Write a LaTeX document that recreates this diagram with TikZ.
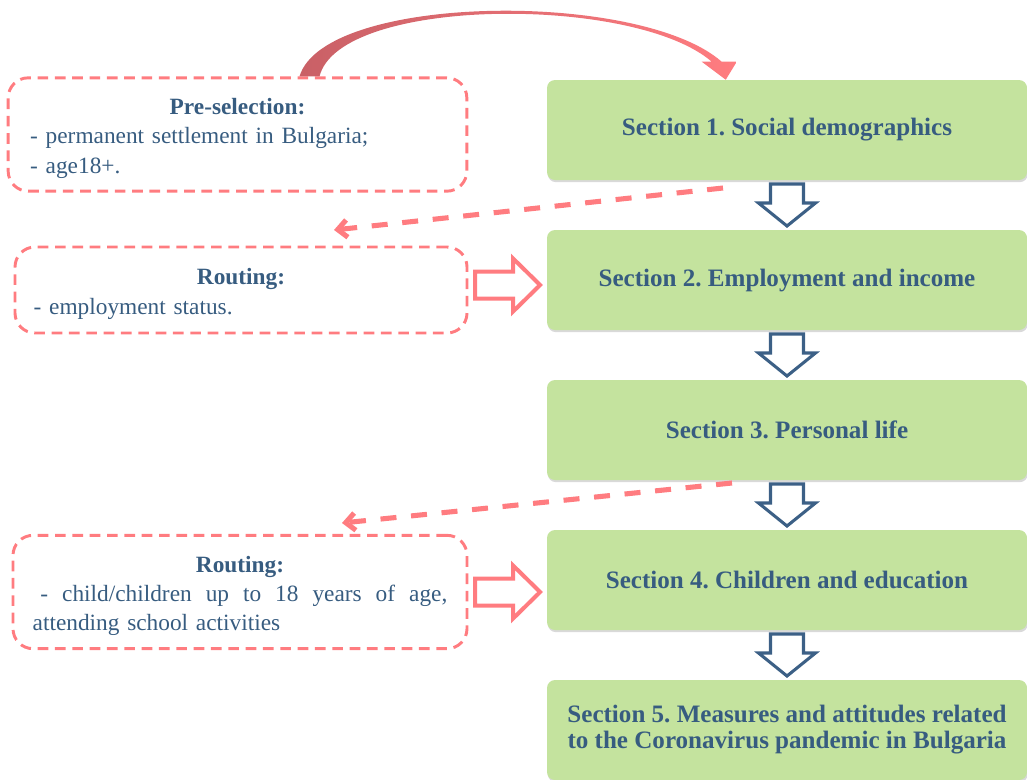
\documentclass[tikz,border=0pt]{standalone}
\usepackage{fontspec}
\setmainfont{Liberation Serif}
\usetikzlibrary{arrows.meta,calc,shadows}
\frenchspacing

\definecolor{secgreen}{RGB}{196,227,158}
\definecolor{secblue}{RGB}{55,92,128}
\definecolor{arrowblue}{RGB}{60,96,134}
\definecolor{salmon}{RGB}{255,124,128}
\definecolor{salmondark}{RGB}{201,96,102}

\begin{document}
\begin{tikzpicture}[x=0.75pt, y=-0.75pt,
    section/.style={fill=secgreen, rounded corners=6pt, minimum width=360pt, minimum height=75pt,
      text=secblue, font=\bfseries\fontsize{18.8}{19.5}\selectfont, align=center,
      drop shadow={shadow xshift=0.6pt, shadow yshift=-1.6pt, opacity=0.3}},
    note/.style={draw=salmon, line width=2.2pt, dash pattern=on 8pt off 5pt, rounded corners=15pt,
      text width=311pt, text=secblue, font=\fontsize{17.5}{21.8}\selectfont, align=left},
    link/.style={draw=salmon, line width=3.8pt, dash pattern=on 12pt off 11pt,
      -{Straight Barb[length=7pt,width=13pt]}},
    downarrow/.pic={
      \draw[arrowblue, line width=2.3pt, fill=white, line join=miter]
        (-16.5,-21) -- (16.5,-21) -- (16.5,-2) -- (28.5,-2) -- (0,21)
        -- (-28.5,-2) -- (-16.5,-2) -- cycle;},
    rightarrow/.pic={
      \draw[salmon, line width=3pt, fill=white, line join=miter]
        (-32.5,-13.5) -- (5.5,-13.5) -- (5.5,-26.5) -- (32.5,0) -- (5.5,26.5)
        -- (5.5,13.5) -- (-32.5,13.5) -- cycle;}
  ]
  \useasboundingbox (0,0) rectangle (1027,779);

  % sections on the right
  \node[section] (s1) at (787,130) {Section 1. Social demographics};
  \node[section] (s2) at (787,280) {Section 2. Employment and income};
  \node[section] (s3) at (787,430) {Section 3. Personal life};
  \node[section] (s4) at (787,580) {Section 4. Children and education};
  \node[section] (s5) at (787,730) {Section 5. Measures and attitudes related\\to the Coronavirus pandemic in Bulgaria};

  % filters on the left (the tall strut lowers the text a little)
  \node[note, minimum width=344pt, minimum height=85pt] (pre) at (237.5,134.5)
    {{\centering\rule{0pt}{18pt}\textbf{Pre-selection:}\par}- permanent settlement in Bulgaria;\\- age18+.};
  \node[note, minimum width=339pt, minimum height=64.5pt] (rout1) at (241,290)
    {{\centering\rule{0pt}{18pt}\textbf{Routing:}\par}- employment status.};
  \node[note, minimum width=340.5pt, minimum height=85pt] (rout2) at (240,592)
    {{\centering\rule{0pt}{18pt}\textbf{Routing:}\par}\hbox to 311pt{\ - \hfil child/children \hfil up \hfil to \hfil 18 \hfil years \hfil of \hfil age,}
     attending school activities};

  % flow between sections
  \path (s1.south) -- (s2.north) pic[pos=0.5] {downarrow};
  \path (s2.south) -- (s3.north) pic[pos=0.5] {downarrow};
  \path (s3.south) -- (s4.north) pic[pos=0.5] {downarrow};
  \path (s4.south) -- (s5.north) pic[pos=0.5] {downarrow};

  \path (rout1.east) -- (s2.west) pic[pos=0.5] {rightarrow};
  \path (rout2.east) -- (s4.west |- rout2.east) pic[pos=0.5] {rightarrow};

  % back links to the routing filters
  \coordinate (d1a) at (723,188);
  \coordinate (d1b) at (334,230);
  \coordinate (d2a) at (732,483);
  \coordinate (d2b) at (342,523);
  \draw[link] (d1a) -- (d1b);
  \draw[link] (d2a) -- (d2b);

  % curved arrow from pre-selection to section 1
  \coordinate (cs) at ($(pre.north)+(72,0)$);
  \coordinate (ct) at ($(s1.north west)+(179,0)$);
  \shade[left color=salmondark, right color=salmon]
    ($(cs)+(-10,0)$) .. controls ($(cs)+(15,-83)$) and ($(ct)+(-86,-90)$) .. ($(ct)+(-4,-18)$)
    -- ($(ct)+(11,-18)$) -- (ct) -- ($(ct)+(-24,-18)$) -- ($(ct)+(-14,-18)$)
    .. controls ($(ct)+(-91,-85)$) and ($(cs)+(30,-80)$) .. ($(cs)+(10,0)$) -- cycle;
\end{tikzpicture}
\end{document}
